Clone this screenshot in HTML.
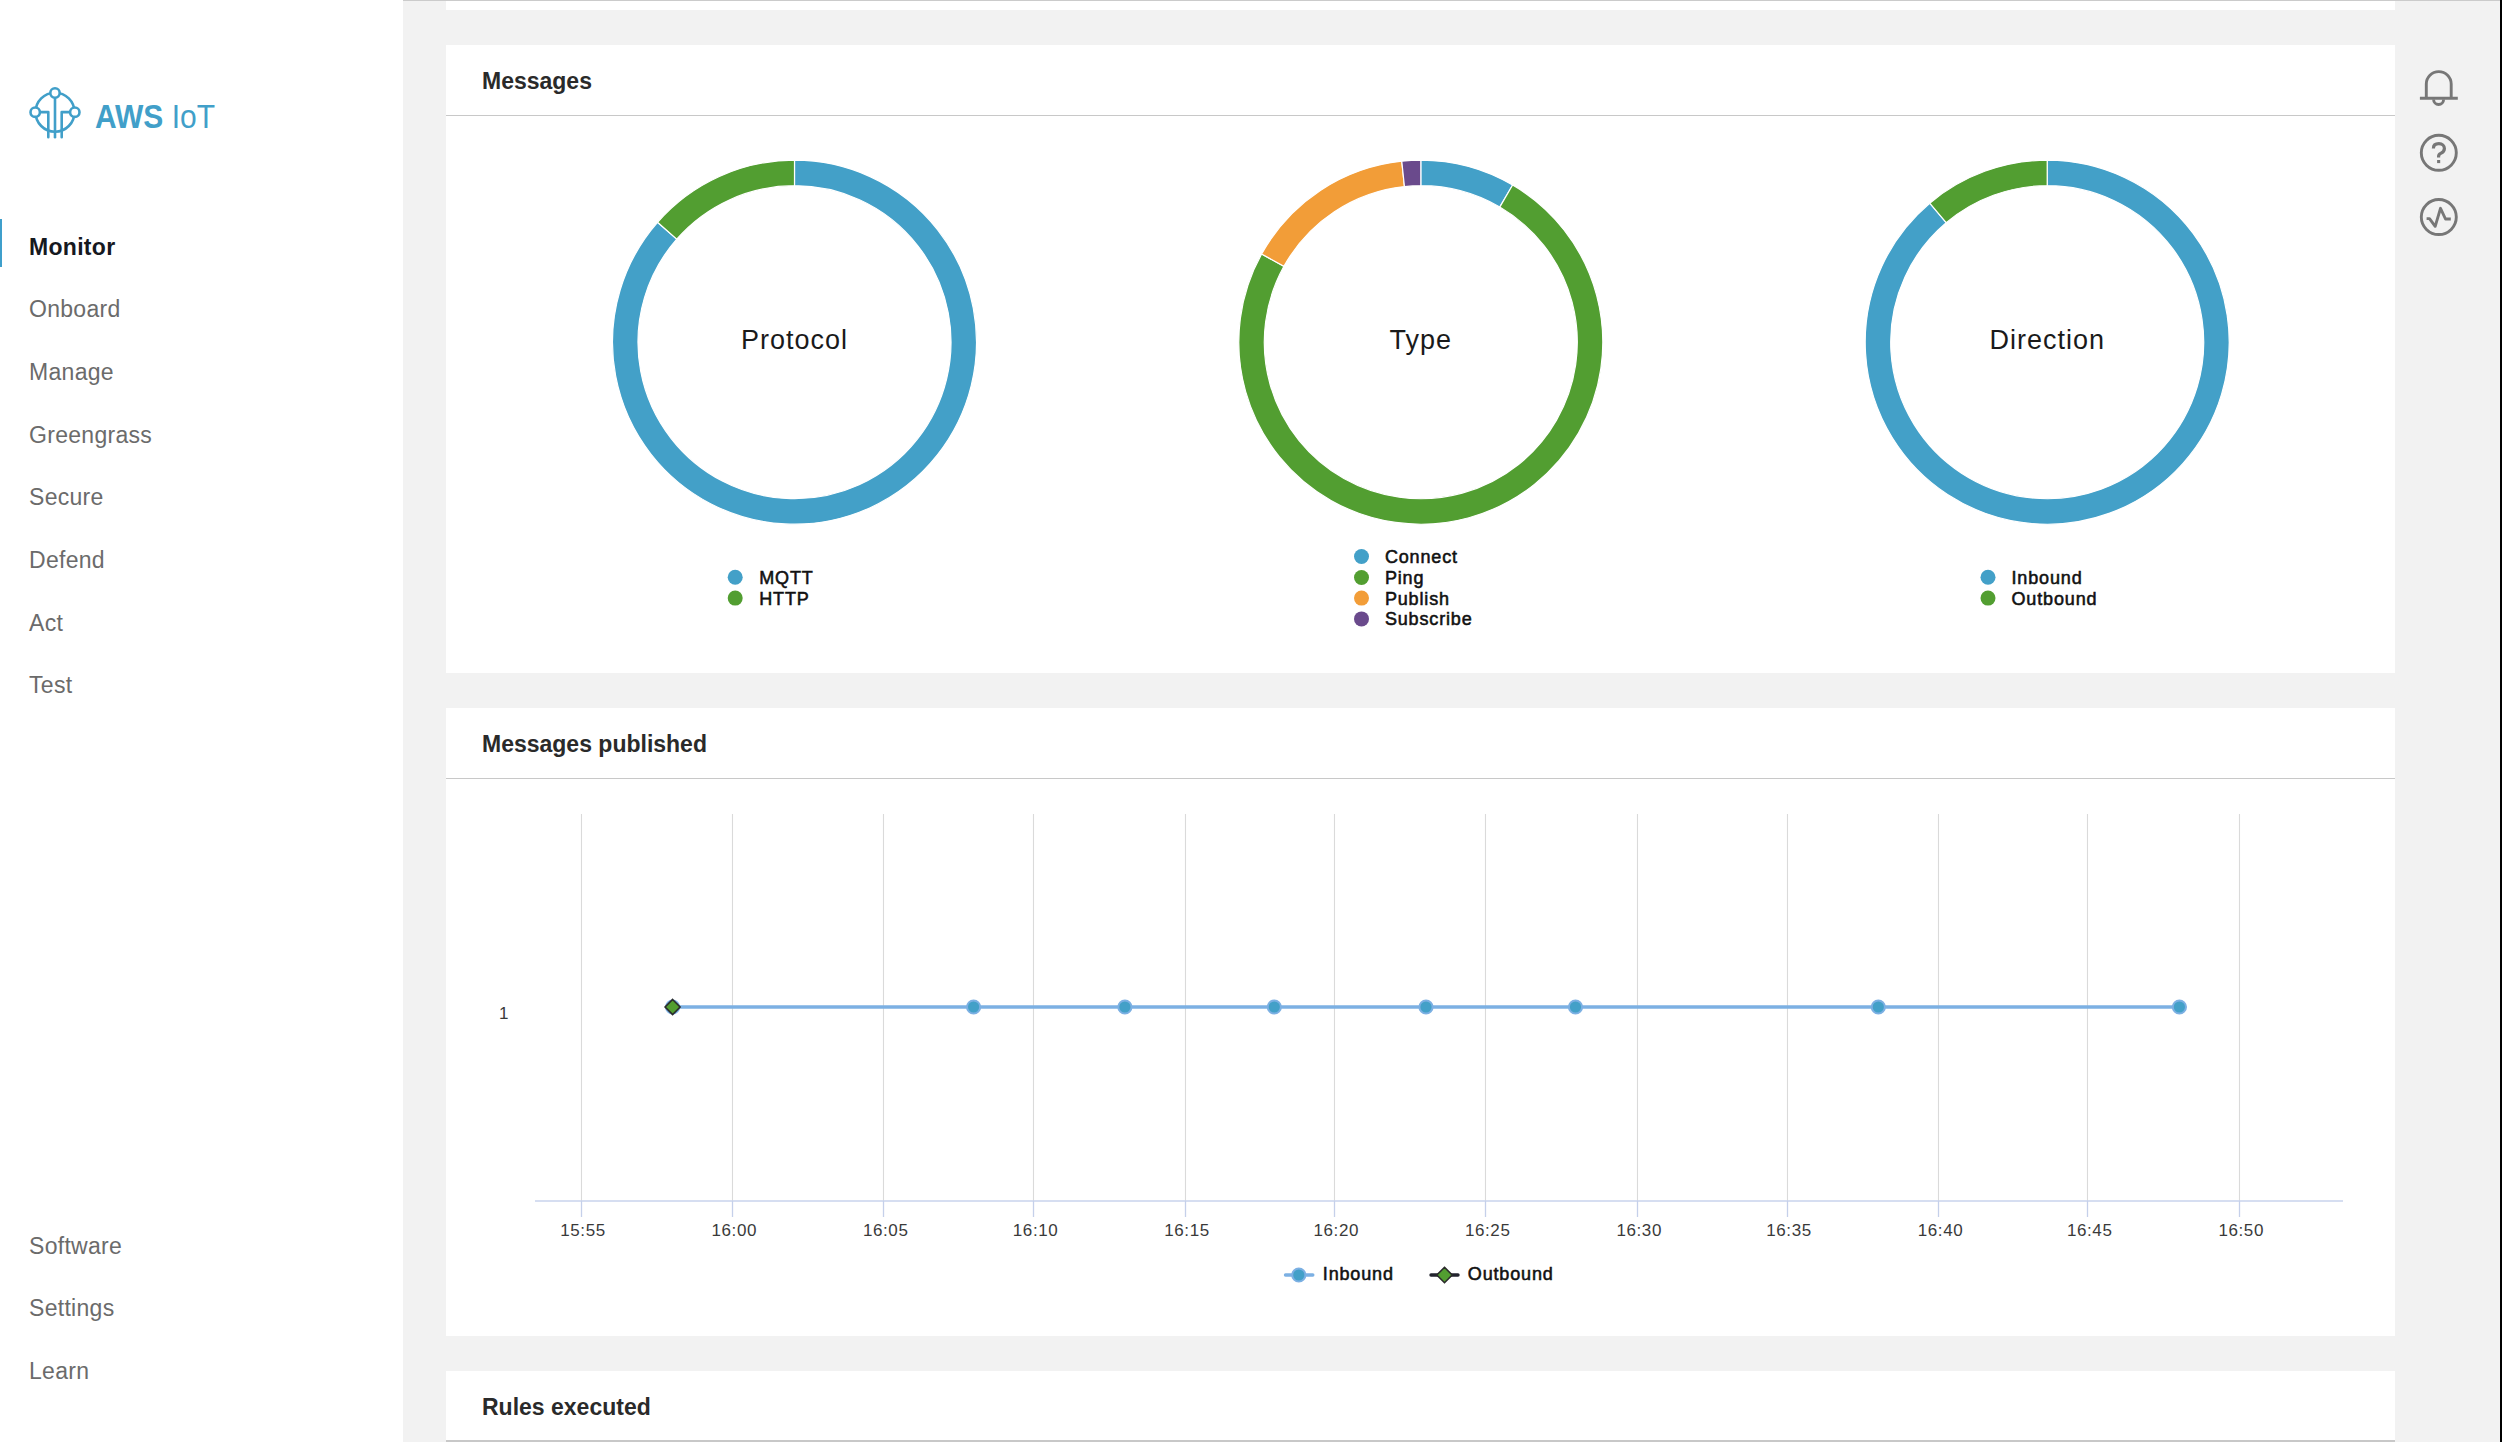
<!DOCTYPE html>
<html><head><meta charset="utf-8"><style>
*{margin:0;padding:0;box-sizing:border-box}
html,body{width:2502px;height:1442px;overflow:hidden;background:#f2f2f2;font-family:"Liberation Sans",sans-serif}
#side{position:absolute;left:0;top:0;width:403px;height:1442px;background:#fff}
.nav{position:absolute;left:29px;font-size:23px;line-height:26px;letter-spacing:0.3px;color:#6b6b6b;white-space:nowrap}
.nav.act{color:#16191f;font-weight:bold}
#bar{position:absolute;left:0;top:219px;width:1.6px;height:48px;background:#3f9fcb}
#logo{position:absolute;left:0;top:0}
.brand{position:absolute;left:95px;top:98.7px;font-size:30px;line-height:34px;color:#419fc9;white-space:nowrap;transform-origin:0 0;transform:scaleY(1.08)}
.card{position:absolute;left:446px;width:1949px;background:#fff}
.hdr{position:absolute;left:36px;font-size:23px;font-weight:bold;color:#2a2a2a;white-space:nowrap}
.hb{position:absolute;left:0;width:1949px;height:1.5px;background:#c8c8c8}
#topline{position:absolute;left:403px;top:0;width:2099px;height:1.4px;background:#cbcbcb}
#rline{position:absolute;left:2500px;top:0;width:2px;height:1442px;background:#000}
svg{position:absolute;left:0;top:0}
.dl{font-size:27px;letter-spacing:1px;fill:#1a1a1a}
.lg{font-size:18px;letter-spacing:0.85px;fill:#111;stroke:#111;stroke-width:0.55px;paint-order:stroke}
.ax{font-size:17px;letter-spacing:0.6px;fill:#3a3a3a}
.ic{fill:none;stroke:#777;stroke-width:2.9}
</style></head><body>
<div id="side">
<div class="nav act" style="top:233.6px">Monitor</div><div class="nav" style="top:296.2px">Onboard</div><div class="nav" style="top:358.9px">Manage</div><div class="nav" style="top:421.5px">Greengrass</div><div class="nav" style="top:484.2px">Secure</div><div class="nav" style="top:546.8px">Defend</div><div class="nav" style="top:609.5px">Act</div><div class="nav" style="top:672.1px">Test</div><div class="nav" style="top:1232.9px">Software</div><div class="nav" style="top:1295.3px">Settings</div><div class="nav" style="top:1357.7px">Learn</div>
<div id="bar"></div>
<svg id="logo" width="240" height="160" viewBox="0 0 240 160">
<g fill="none" stroke="#419fc9" stroke-width="2.6" stroke-linecap="round" stroke-linejoin="round">
<circle cx="55" cy="112.2" r="19.5"/>
<path d="M40,112.1 H48.3 V137.3"/>
<path d="M70,112.1 H61.7 V137.3"/>
<path d="M55,97.7 V137.3"/>
<circle cx="55" cy="93" r="4.7" fill="#fff"/>
<circle cx="35.2" cy="112.2" r="4.7" fill="#fff"/>
<circle cx="74.8" cy="112.2" r="4.7" fill="#fff"/>
</g></svg>
<div class="brand"><b>AWS</b> IoT</div>
</div>
<div class="card" style="top:1px;height:9px"></div>
<div class="card" style="top:45px;height:628px"></div>
<div class="card" style="top:708px;height:628px"></div>
<div class="card" style="top:1371px;height:80px"></div>
<div class="hb" style="left:446px;top:114.7px"></div>
<div class="hb" style="left:446px;top:777.5px"></div>
<div class="hb" style="left:446px;top:1440.3px"></div>
<div class="hdr" style="left:482px;top:67.5px">Messages</div>
<div class="hdr" style="left:482px;top:730.5px">Messages published</div>
<div class="hdr" style="left:482px;top:1393.5px">Rules executed</div>
<svg width="2502" height="1442" viewBox="0 0 2502 1442">
<path d="M794.50,160.20A182,182 0 1 1 657.56,222.32L676.75,239.12A156.5,156.5 0 1 0 794.50,185.70Z" fill="#43a0c8" stroke="#fff" stroke-width="1.2"/><path d="M657.56,222.32A182,182 0 0 1 794.50,160.20L794.50,185.70A156.5,156.5 0 0 0 676.75,239.12Z" fill="#529e31" stroke="#fff" stroke-width="1.2"/><text x="794.5" y="349" text-anchor="middle" class="dl">Protocol</text><path d="M1420.80,160.20A182,182 0 0 1 1512.62,185.06L1499.76,207.08A156.5,156.5 0 0 0 1420.80,185.70Z" fill="#43a0c8" stroke="#fff" stroke-width="1.2"/><path d="M1512.62,185.06A182,182 0 1 1 1261.62,253.96L1283.92,266.33A156.5,156.5 0 1 0 1499.76,207.08Z" fill="#529e31" stroke="#fff" stroke-width="1.2"/><path d="M1261.62,253.96A182,182 0 0 1 1401.78,161.20L1404.44,186.56A156.5,156.5 0 0 0 1283.92,266.33Z" fill="#f29d38" stroke="#fff" stroke-width="1.2"/><path d="M1401.78,161.20A182,182 0 0 1 1420.80,160.20L1420.80,185.70A156.5,156.5 0 0 0 1404.44,186.56Z" fill="#6a4a8c" stroke="#fff" stroke-width="1.2"/><text x="1420.8" y="349" text-anchor="middle" class="dl">Type</text><path d="M2047.20,160.20A182,182 0 1 1 1929.73,203.19L1946.19,222.67A156.5,156.5 0 1 0 2047.20,185.70Z" fill="#43a0c8" stroke="#fff" stroke-width="1.2"/><path d="M1929.73,203.19A182,182 0 0 1 2047.20,160.20L2047.20,185.70A156.5,156.5 0 0 0 1946.19,222.67Z" fill="#529e31" stroke="#fff" stroke-width="1.2"/><text x="2047.2" y="349" text-anchor="middle" class="dl">Direction</text><circle cx="735.2" cy="577.2" r="7.5" fill="#43a0c8"/><text x="759.2" y="583.7" class="lg">MQTT</text><circle cx="735.2" cy="598.1" r="7.5" fill="#529e31"/><text x="759.2" y="604.6" class="lg">HTTP</text><circle cx="1361.5" cy="556.5" r="7.5" fill="#43a0c8"/><text x="1384.9" y="563.0" class="lg">Connect</text><circle cx="1361.5" cy="577.5" r="7.5" fill="#529e31"/><text x="1384.9" y="584.0" class="lg">Ping</text><circle cx="1361.5" cy="598.1" r="7.5" fill="#f29d38"/><text x="1384.9" y="604.6" class="lg">Publish</text><circle cx="1361.5" cy="618.9" r="7.5" fill="#6a4a8c"/><text x="1384.9" y="625.4" class="lg">Subscribe</text><circle cx="1988" cy="577.2" r="7.5" fill="#43a0c8"/><text x="2011.5" y="583.7" class="lg">Inbound</text><circle cx="1988" cy="598.1" r="7.5" fill="#529e31"/><text x="2011.5" y="604.6" class="lg">Outbound</text>
<line x1="581.5" y1="814" x2="581.5" y2="1201" stroke="#dadada" stroke-width="1.1"/><line x1="732.5" y1="814" x2="732.5" y2="1201" stroke="#dadada" stroke-width="1.1"/><line x1="883.5" y1="814" x2="883.5" y2="1201" stroke="#dadada" stroke-width="1.1"/><line x1="1033.5" y1="814" x2="1033.5" y2="1201" stroke="#dadada" stroke-width="1.1"/><line x1="1185.5" y1="814" x2="1185.5" y2="1201" stroke="#dadada" stroke-width="1.1"/><line x1="1334.5" y1="814" x2="1334.5" y2="1201" stroke="#dadada" stroke-width="1.1"/><line x1="1485.5" y1="814" x2="1485.5" y2="1201" stroke="#dadada" stroke-width="1.1"/><line x1="1637.5" y1="814" x2="1637.5" y2="1201" stroke="#dadada" stroke-width="1.1"/><line x1="1787.5" y1="814" x2="1787.5" y2="1201" stroke="#dadada" stroke-width="1.1"/><line x1="1938.5" y1="814" x2="1938.5" y2="1201" stroke="#dadada" stroke-width="1.1"/><line x1="2087.5" y1="814" x2="2087.5" y2="1201" stroke="#dadada" stroke-width="1.1"/><line x1="2239.5" y1="814" x2="2239.5" y2="1201" stroke="#dadada" stroke-width="1.1"/><line x1="535" y1="1201" x2="2343" y2="1201" stroke="#c9d3ec" stroke-width="1.6"/><line x1="581.5" y1="1201" x2="581.5" y2="1217" stroke="#c5d0ea" stroke-width="1.3"/><text x="583.0" y="1235.5" text-anchor="middle" class="ax">15:55</text><line x1="732.5" y1="1201" x2="732.5" y2="1217" stroke="#c5d0ea" stroke-width="1.3"/><text x="734.3" y="1235.5" text-anchor="middle" class="ax">16:00</text><line x1="883.5" y1="1201" x2="883.5" y2="1217" stroke="#c5d0ea" stroke-width="1.3"/><text x="885.7" y="1235.5" text-anchor="middle" class="ax">16:05</text><line x1="1033.5" y1="1201" x2="1033.5" y2="1217" stroke="#c5d0ea" stroke-width="1.3"/><text x="1035.6" y="1235.5" text-anchor="middle" class="ax">16:10</text><line x1="1185.5" y1="1201" x2="1185.5" y2="1217" stroke="#c5d0ea" stroke-width="1.3"/><text x="1187.0" y="1235.5" text-anchor="middle" class="ax">16:15</text><line x1="1334.5" y1="1201" x2="1334.5" y2="1217" stroke="#c5d0ea" stroke-width="1.3"/><text x="1336.3" y="1235.5" text-anchor="middle" class="ax">16:20</text><line x1="1485.5" y1="1201" x2="1485.5" y2="1217" stroke="#c5d0ea" stroke-width="1.3"/><text x="1487.7" y="1235.5" text-anchor="middle" class="ax">16:25</text><line x1="1637.5" y1="1201" x2="1637.5" y2="1217" stroke="#c5d0ea" stroke-width="1.3"/><text x="1639.2" y="1235.5" text-anchor="middle" class="ax">16:30</text><line x1="1787.5" y1="1201" x2="1787.5" y2="1217" stroke="#c5d0ea" stroke-width="1.3"/><text x="1789.0" y="1235.5" text-anchor="middle" class="ax">16:35</text><line x1="1938.5" y1="1201" x2="1938.5" y2="1217" stroke="#c5d0ea" stroke-width="1.3"/><text x="1940.5" y="1235.5" text-anchor="middle" class="ax">16:40</text><line x1="2087.5" y1="1201" x2="2087.5" y2="1217" stroke="#c5d0ea" stroke-width="1.3"/><text x="2089.7" y="1235.5" text-anchor="middle" class="ax">16:45</text><line x1="2239.5" y1="1201" x2="2239.5" y2="1217" stroke="#c5d0ea" stroke-width="1.3"/><text x="2241.2" y="1235.5" text-anchor="middle" class="ax">16:50</text><text x="504" y="1019.3" text-anchor="middle" class="ax">1</text><line x1="672.6" y1="1007" x2="2179.4" y2="1007" stroke="#7cb0e3" stroke-width="3.4"/><circle cx="672.6" cy="1007" r="6.6" fill="#43a0c8" stroke="#7cb0e3" stroke-width="2"/><circle cx="973.6" cy="1007" r="6.6" fill="#43a0c8" stroke="#7cb0e3" stroke-width="2"/><circle cx="1124.9" cy="1007" r="6.6" fill="#43a0c8" stroke="#7cb0e3" stroke-width="2"/><circle cx="1274.3" cy="1007" r="6.6" fill="#43a0c8" stroke="#7cb0e3" stroke-width="2"/><circle cx="1426.0" cy="1007" r="6.6" fill="#43a0c8" stroke="#7cb0e3" stroke-width="2"/><circle cx="1575.5" cy="1007" r="6.6" fill="#43a0c8" stroke="#7cb0e3" stroke-width="2"/><circle cx="1878.3" cy="1007" r="6.6" fill="#43a0c8" stroke="#7cb0e3" stroke-width="2"/><circle cx="2179.4" cy="1007" r="6.6" fill="#43a0c8" stroke="#7cb0e3" stroke-width="2"/><path d="M672.6,999.5L680.1,1007L672.6,1014.5L665.1,1007Z" fill="#529e31" stroke="#2b2b2b" stroke-width="1.6"/><line x1="1285.5" y1="1275" x2="1312.8" y2="1275" stroke="#7cb0e3" stroke-width="3.4" stroke-linecap="round"/><circle cx="1298.8" cy="1275" r="6.6" fill="#43a0c8" stroke="#7cb0e3" stroke-width="2"/><text x="1322.8" y="1280.3" class="lg">Inbound</text><line x1="1431" y1="1275" x2="1458" y2="1275" stroke="#22232e" stroke-width="3.4" stroke-linecap="round"/><path d="M1444.5,1267.3L1452.2,1275L1444.5,1282.7L1436.8,1275Z" fill="#529e31" stroke="#2b2b2b" stroke-width="1.6"/><text x="1467.8" y="1280.3" class="lg">Outbound</text>
<g class="ic" stroke-linecap="butt" stroke-linejoin="round">
<path d="M2426.3,98 V84.1 A12.45,12.45 0 0 1 2451.2,84.1 V98"/>
<path d="M2419.9,98.25 H2457.8"/>
<path d="M2433.6,99.5 A5,5 0 0 0 2443.6,99.5"/>
<circle cx="2438.8" cy="152.8" r="17.5"/>
<circle cx="2438.8" cy="217.05" r="17.5"/>
<path stroke-width="3.2" d="M2433.4,148.4 C2433.4,145.2 2435.7,143.6 2438.9,143.6 C2442.3,143.6 2444.4,145.9 2444.4,148.5 C2444.4,151.3 2442.6,152.5 2440.7,153.4 C2439.2,154.1 2438.6,155 2438.6,156.3 V157.6"/>
<path d="M2426.6,218.6 H2429.5 L2435.2,226.3 L2440.5,208.3 L2445.5,219 H2450.8"/>
</g>
<rect x="2437.1" y="160" width="3.1" height="3.1" fill="#777"/>
</svg>
<div id="topline"></div>
<div id="rline"></div>
</body></html>
